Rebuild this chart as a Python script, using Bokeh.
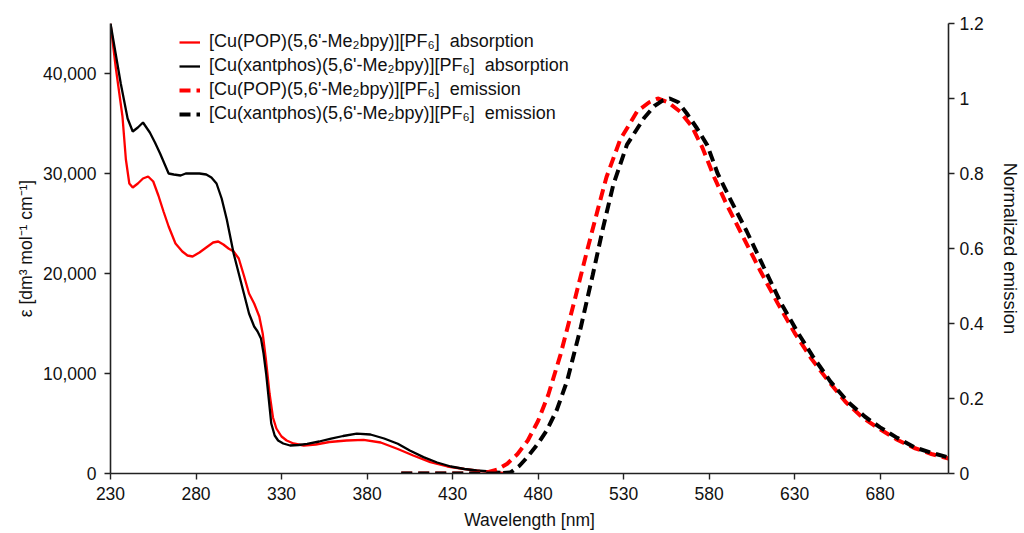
from bokeh.plotting import figure
from bokeh.models import (Range1d, LinearAxis, FixedTicker, NumeralTickFormatter,
                          Legend, LegendItem)
from bokeh.embed import file_html
from bokeh.resources import INLINE

# ---------------- data ----------------
wl_pop_abs = [230, 233, 237, 239, 241, 243, 246, 249, 252, 255, 258, 261, 264, 268, 272, 275,
              278, 282, 286, 290, 293, 296, 299, 302, 305, 308, 311, 314, 317, 319, 321, 323,
              325, 327, 330, 333, 337, 343, 350, 358, 368, 378, 388, 398, 407, 417, 427, 437,
              446, 455, 460]
eps_pop_abs = [45000, 40700, 35700, 31400, 29000, 28600, 29000, 29500, 29700, 29200, 27800,
               26200, 24700, 23000, 22200, 21800, 21700, 22100, 22600, 23100, 23200, 22900,
               22500, 22200, 21500, 19800, 18000, 17000, 15700, 14000, 11200, 8000, 5600, 4500,
               3700, 3300, 3000, 2800, 2900, 3150, 3300, 3370, 3100, 2450, 1800, 1140, 700, 450,
               250, 120, 60]

wl_xan_abs = [230, 233, 236, 240, 243, 246, 249, 253, 256, 259, 262, 264, 267, 271, 274, 278,
              282, 286, 289, 292, 295, 298, 300, 302, 305, 308, 311, 314, 316, 318, 319.5, 321,
              322.5, 324, 326, 328, 331, 335, 340, 345, 352, 359, 366, 374, 382, 390, 398, 405,
              413, 421, 429, 437, 444, 452, 458]
eps_xan_abs = [45000, 42000, 39000, 35500, 34200, 34600, 35100, 34100, 33100, 32000, 30800,
               30000, 29900, 29800, 30000, 30000, 30000, 29900, 29600, 29000, 27500, 25400,
               23700, 22000, 20000, 18000, 16000, 14700, 14200, 13500, 12000, 10000, 7500, 5000,
               3800, 3300, 3000, 2800, 2850, 2970, 3200, 3480, 3750, 3980, 3900, 3500, 2970,
               2300, 1640, 1100, 700, 450, 300, 200, 150]

wl_pop_em = [400, 420, 440, 450, 456, 462, 468, 474, 480, 486, 493, 501, 509, 515, 520, 528,
             538, 545, 550, 556, 563, 570, 576, 583, 590, 600, 610, 620, 630, 640, 650, 660,
             670, 680, 690, 700, 710, 720]
em_pop = [0, 0, 0, 0.003, 0.01, 0.026, 0.052, 0.088, 0.14, 0.21, 0.315, 0.455, 0.6, 0.705, 0.79,
          0.89, 0.966, 0.99, 1.0, 0.99, 0.965, 0.925, 0.87, 0.79, 0.72, 0.63, 0.54, 0.455,
          0.375, 0.305, 0.245, 0.19, 0.148, 0.118, 0.09, 0.068, 0.052, 0.04]

wl_xan_em = [400, 420, 440, 455, 464, 469, 474, 480, 485, 491, 497, 505, 512, 518, 524, 532,
             542, 548, 553, 557, 562, 567, 573, 579, 585, 592, 602, 612, 622, 632, 641, 651,
             661, 671, 680, 690, 700, 710, 720]
em_xan = [0, 0, 0, 0, 0.003, 0.02, 0.045, 0.08, 0.114, 0.17, 0.247, 0.39, 0.53, 0.655, 0.77,
          0.877, 0.948, 0.98, 0.995, 1.0, 0.99, 0.96, 0.92, 0.875, 0.80, 0.735, 0.646, 0.55,
          0.455, 0.375, 0.31, 0.245, 0.192, 0.152, 0.123, 0.095, 0.07, 0.055, 0.043]

x_ticks = [230, 280, 330, 380, 430, 480, 530, 580, 630, 680]
left_ticks = [0, 10000, 20000, 30000, 40000]
right_ticks = [0, 0.2, 0.4, 0.6, 0.8, 1.0, 1.2]

labels = ["[Cu(POP)(5,6'-Me\u2082bpy)][PF\u2086]  absorption",
          "[Cu(xantphos)(5,6'-Me\u2082bpy)][PF\u2086]  absorption",
          "[Cu(POP)(5,6'-Me\u2082bpy)][PF\u2086]  emission",
          "[Cu(xantphos)(5,6'-Me\u2082bpy)][PF\u2086]  emission"]

FONT = "Liberation Sans"
AX = "#222222"

p = figure(width=1024, height=533, x_range=Range1d(230, 720), y_range=Range1d(0, 45000),
           output_backend="svg", toolbar_location=None,
           min_border_left=110, min_border_right=76, min_border_top=23, min_border_bottom=60)
p.outline_line_color = None
p.xgrid.visible = False
p.ygrid.visible = False
p.background_fill_color = "white"
p.border_fill_color = "white"

p.extra_y_ranges = {"em": Range1d(0, 1.2)}
raxis = LinearAxis(y_range_name="em")
p.add_layout(raxis, "right")

for ax in [p.xaxis[0], p.yaxis[0], raxis]:
    ax.axis_line_color = AX
    ax.axis_line_width = 1.6
    ax.major_tick_line_color = AX
    ax.major_tick_line_width = 1.4
    ax.major_tick_out = 6
    ax.major_tick_in = 0
    ax.minor_tick_line_color = None
    ax.major_label_text_font = FONT
    ax.major_label_text_font_size = "17.5px"
    ax.major_label_text_color = "#111111"
    ax.axis_label_text_font = FONT
    ax.axis_label_text_font_size = "17.5px"
    ax.axis_label_text_font_style = "normal"
    ax.axis_label_text_color = "#111111"

p.xaxis[0].ticker = FixedTicker(ticks=x_ticks)
p.xaxis[0].axis_label = "Wavelength [nm]"
p.xaxis[0].major_label_standoff = 7
p.xaxis[0].axis_label_standoff = 7

p.yaxis[0].ticker = FixedTicker(ticks=left_ticks)
p.yaxis[0].formatter = NumeralTickFormatter(format="0,0")
p.yaxis[0].axis_label = "\u03b5 [dm\u00b3 mol\u207b\u00b9 cm\u207b\u00b9]"
p.yaxis[0].major_label_standoff = 8
p.yaxis[0].axis_label_standoff = 4

raxis.ticker = FixedTicker(ticks=right_ticks)
raxis.formatter = NumeralTickFormatter(format="0.[0]")
raxis.axis_label = "Normalized emission"
raxis.axis_label_text_font_size = "18.5px"
raxis.major_label_standoff = 5
raxis.axis_label_standoff = 13

r1 = p.line(wl_pop_abs, eps_pop_abs, line_color="#ff0000", line_width=2.3)
r2 = p.line(wl_xan_abs, eps_xan_abs, line_color="#000000", line_width=2.3)
r3 = p.line(wl_pop_em, em_pop, line_color="#ff0000", line_width=4, line_dash="11 6",
            y_range_name="em")
r4 = p.line(wl_xan_em, em_xan, line_color="#000000", line_width=4, line_dash="11 6",
            y_range_name="em")

legend = Legend(items=[LegendItem(label=labels[0], renderers=[r1]),
                       LegendItem(label=labels[1], renderers=[r2]),
                       LegendItem(label=labels[2], renderers=[r3]),
                       LegendItem(label=labels[3], renderers=[r4])],
                location=(69, 349), padding=0, margin=0, spacing=3,
                glyph_width=21, glyph_height=20, label_height=20, label_standoff=9,
                label_text_font=FONT, label_text_font_size="18px",
                label_text_color="#111111",
                border_line_color=None, background_fill_alpha=0)
p.add_layout(legend)

open("out.html", "w").write(file_html(p, INLINE))
